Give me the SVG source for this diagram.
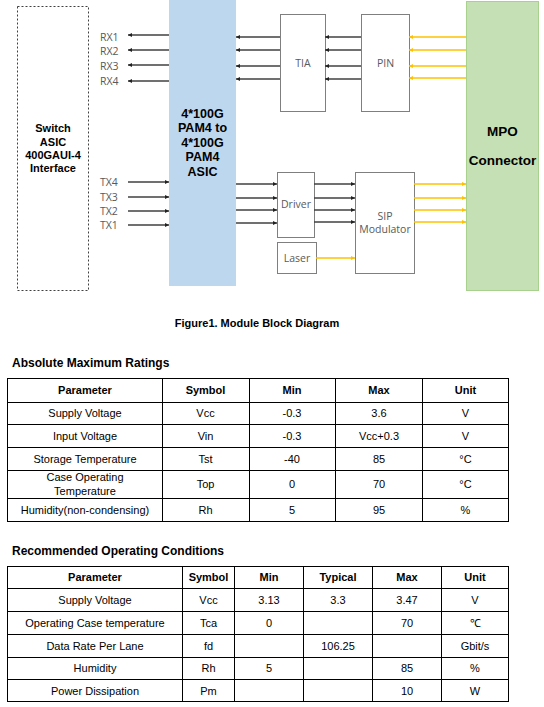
<svg xmlns="http://www.w3.org/2000/svg" width="544" height="707" viewBox="0 0 544 707">
<style>
.lbl{font-family:"Open Sans","Liberation Sans",sans-serif;font-size:10.5px;fill:#595959}
.bx{fill:#fff;stroke:#7f7f7f;stroke-width:1}
.bold{font-family:"Liberation Sans",Arial,sans-serif;font-weight:bold;fill:#000}
.k{stroke:#404040;stroke-width:1.3;fill:none;marker-end:url(#ak)}
.y{stroke:#FFC000;stroke-width:1.5;fill:none;marker-end:url(#ay)}
.t{font-family:"Liberation Sans",Arial,sans-serif;font-size:11px;fill:#000;text-anchor:middle}
.th{font-family:"Liberation Sans",Arial,sans-serif;font-size:11px;font-weight:bold;fill:#000;text-anchor:middle}
.h{font-family:"Liberation Sans",Arial,sans-serif;font-size:12px;font-weight:bold;fill:#000}
.g{stroke:#000;stroke-width:1;fill:none}
</style>
<defs>
<marker id="ak" viewBox="0 0 6 6" refX="6" refY="3" markerWidth="4" markerHeight="4" markerUnits="userSpaceOnUse" orient="auto"><path d="M0,0L6,3L0,6z" fill="#222"/></marker>
<marker id="ay" viewBox="0 0 6 6" refX="6" refY="3" markerWidth="4" markerHeight="4" markerUnits="userSpaceOnUse" orient="auto"><path d="M0,0L6,3L0,6z" fill="#FFC000"/></marker>
</defs>
<rect width="544" height="707" fill="#fff"/>

<g id="switch">
<rect x="17.5" y="6.5" width="71" height="284" fill="#fff" stroke="#404040" stroke-width="1" stroke-dasharray="2,2"/>
<text class="bold" font-size="11" text-anchor="middle"><tspan x="53" y="132">Switch</tspan><tspan x="53" y="145.5">ASIC</tspan><tspan x="53" y="159">400GAUI-4</tspan><tspan x="53" y="172">Interface</tspan></text>
</g>
<g id="asic">
<rect x="169" y="0" width="67" height="286" fill="#BDD7EE"/>
<text class="bold" font-size="12.5" text-anchor="middle"><tspan x="202.5" y="117.5">4*100G</tspan><tspan x="202.5" y="132">PAM4 to</tspan><tspan x="202.5" y="146.5">4*100G</tspan><tspan x="202.5" y="161">PAM4</tspan><tspan x="202.5" y="175.5">ASIC</tspan></text>
</g>
<g id="rxlabels">
<text class="lbl" x="100" y="41">RX1</text>
<text class="lbl" x="100" y="55">RX2</text>
<text class="lbl" x="100" y="70">RX3</text>
<text class="lbl" x="100" y="85">RX4</text>
</g>
<g id="txlabels">
<text class="lbl" x="100" y="186">TX4</text>
<text class="lbl" x="100" y="201">TX3</text>
<text class="lbl" x="100" y="215">TX2</text>
<text class="lbl" x="100" y="229">TX1</text>
</g>
<g id="tia">
<rect class="bx" x="280.5" y="14.5" width="45" height="97"/>
<text class="lbl" x="303" y="67" text-anchor="middle">TIA</text>
</g>
<g id="pin">
<rect class="bx" x="361.5" y="14.5" width="48" height="97"/>
<text class="lbl" x="385.5" y="67" text-anchor="middle">PIN</text>
</g>
<g id="driver">
<rect class="bx" x="277.5" y="172.5" width="37" height="65"/>
<text class="lbl" x="296" y="208" text-anchor="middle">Driver</text>
</g>
<g id="laser">
<rect class="bx" x="277.5" y="242.5" width="39" height="31"/>
<text class="lbl" x="297" y="262" text-anchor="middle">Laser</text>
</g>
<g id="sip">
<rect class="bx" x="355.5" y="172.5" width="59" height="101"/>
<text class="lbl" text-anchor="middle"><tspan x="385" y="220">SIP</tspan><tspan x="385" y="233">Modulator</tspan></text>
</g>
<g id="mpo">
<rect x="466.5" y="1.5" width="72" height="289" fill="#C5E0B4" stroke="#A9D18E" stroke-width="1"/>
<text class="bold" font-size="13.5" text-anchor="middle"><tspan x="502.5" y="136">MPO</tspan><tspan x="502.5" y="165">Connector</tspan></text>
</g>

<g id="connectors">
<line class="k" x1="169" y1="35" x2="128" y2="35"/>
<line class="k" x1="169" y1="50" x2="128" y2="50"/>
<line class="k" x1="169" y1="65" x2="128" y2="65"/>
<line class="k" x1="169" y1="81" x2="128" y2="81"/>
<line class="k" x1="280" y1="37" x2="236" y2="37"/>
<line class="k" x1="280" y1="50" x2="236" y2="50"/>
<line class="k" x1="280" y1="66" x2="236" y2="66"/>
<line class="k" x1="280" y1="79" x2="236" y2="79"/>
<line class="k" x1="361" y1="37" x2="325" y2="37"/>
<line class="k" x1="361" y1="50" x2="325" y2="50"/>
<line class="k" x1="361" y1="66" x2="325" y2="66"/>
<line class="k" x1="361" y1="79" x2="325" y2="79"/>
<line class="y" x1="466" y1="37" x2="409" y2="37"/>
<line class="y" x1="466" y1="50" x2="409" y2="50"/>
<line class="y" x1="466" y1="66" x2="409" y2="66"/>
<line class="y" x1="466" y1="78" x2="409" y2="78"/>
<line class="k" x1="128" y1="182" x2="169" y2="182"/>
<line class="k" x1="128" y1="197" x2="169" y2="197"/>
<line class="k" x1="128" y1="211" x2="169" y2="211"/>
<line class="k" x1="128" y1="225" x2="169" y2="225"/>
<line class="k" x1="236" y1="184" x2="277" y2="184"/>
<line class="k" x1="236" y1="198" x2="277" y2="198"/>
<line class="k" x1="236" y1="210" x2="277" y2="210"/>
<line class="k" x1="236" y1="223" x2="277" y2="223"/>
<line class="k" x1="314" y1="184" x2="355" y2="184"/>
<line class="k" x1="314" y1="198" x2="355" y2="198"/>
<line class="k" x1="314" y1="210" x2="355" y2="210"/>
<line class="k" x1="314" y1="222" x2="355" y2="222"/>
<line class="y" x1="414" y1="184" x2="466" y2="184"/>
<line class="y" x1="414" y1="198" x2="466" y2="198"/>
<line class="y" x1="414" y1="210" x2="466" y2="210"/>
<line class="y" x1="414" y1="222" x2="466" y2="222"/>
<line class="y" x1="316" y1="258" x2="355" y2="258"/>
</g>

<text x="257" y="327" class="th" font-size="11.3">Figure1. Module Block Diagram</text>

<g id="table1">
<text class="h" x="12" y="367">Absolute Maximum Ratings</text>
<rect class="g" x="7.5" y="378.5" width="501" height="143"/>
<path class="g" d="M7.5,402.5H508.5M7.5,424.5H508.5M7.5,447.5H508.5M7.5,470.5H508.5M7.5,498.5H508.5M162.5,378.5V521.5M249.5,378.5V521.5M335.5,378.5V521.5M422.5,378.5V521.5"/>
<text class="th" x="85" y="394">Parameter</text><text class="th" x="205.5" y="394">Symbol</text><text class="th" x="292" y="394">Min</text><text class="th" x="379" y="394">Max</text><text class="th" x="465.5" y="394">Unit</text>
<text class="t" x="85" y="417">Supply Voltage</text><text class="t" x="205.5" y="417">Vcc</text><text class="t" x="292" y="417">-0.3</text><text class="t" x="379" y="417">3.6</text><text class="t" x="465.5" y="417">V</text>
<text class="t" x="85" y="440">Input Voltage</text><text class="t" x="205.5" y="440">Vin</text><text class="t" x="292" y="440">-0.3</text><text class="t" x="379" y="440">Vcc+0.3</text><text class="t" x="465.5" y="440">V</text>
<text class="t" x="85" y="463">Storage Temperature</text><text class="t" x="205.5" y="463">Tst</text><text class="t" x="292" y="463">-40</text><text class="t" x="379" y="463">85</text><text class="t" x="465.5" y="463">°C</text>
<text class="t" x="85" y="481">Case Operating</text><text class="t" x="85" y="495">Temperature</text><text class="t" x="205.5" y="488">Top</text><text class="t" x="292" y="488">0</text><text class="t" x="379" y="488">70</text><text class="t" x="465.5" y="488">°C</text>
<text class="t" x="85" y="514">Humidity(non-condensing)</text><text class="t" x="205.5" y="514">Rh</text><text class="t" x="292" y="514">5</text><text class="t" x="379" y="514">95</text><text class="t" x="465.5" y="514">%</text>
</g>

<g id="table2">
<text class="h" x="12" y="555">Recommended Operating Conditions</text>
<rect class="g" x="7.5" y="566.5" width="501" height="135"/>
<path class="g" d="M7.5,588.5H508.5M7.5,611.5H508.5M7.5,634.5H508.5M7.5,657.5H508.5M7.5,679.5H508.5M182.5,566.5V701.5M234.5,566.5V701.5M303.5,566.5V701.5M372.5,566.5V701.5M441.5,566.5V701.5"/>
<text class="th" x="95" y="581">Parameter</text><text class="th" x="208.5" y="581">Symbol</text><text class="th" x="269" y="581">Min</text><text class="th" x="338" y="581">Typical</text><text class="th" x="407" y="581">Max</text><text class="th" x="475" y="581">Unit</text>
<text class="t" x="95" y="604">Supply Voltage</text><text class="t" x="208.5" y="604">Vcc</text><text class="t" x="269" y="604">3.13</text><text class="t" x="338" y="604">3.3</text><text class="t" x="407" y="604">3.47</text><text class="t" x="475" y="604">V</text>
<text class="t" x="95" y="627">Operating Case temperature</text><text class="t" x="208.5" y="627">Tca</text><text class="t" x="269" y="627">0</text><text class="t" x="407" y="627">70</text><text class="t" x="475" y="627">℃</text>
<text class="t" x="95" y="650">Data Rate Per Lane</text><text class="t" x="208.5" y="650">fd</text><text class="t" x="338" y="650">106.25</text><text class="t" x="475" y="650">Gbit/s</text>
<text class="t" x="95" y="672">Humidity</text><text class="t" x="208.5" y="672">Rh</text><text class="t" x="269" y="672">5</text><text class="t" x="407" y="672">85</text><text class="t" x="475" y="672">%</text>
<text class="t" x="95" y="695">Power Dissipation</text><text class="t" x="208.5" y="695">Pm</text><text class="t" x="407" y="695">10</text><text class="t" x="475" y="695">W</text>
</g>
</svg>
